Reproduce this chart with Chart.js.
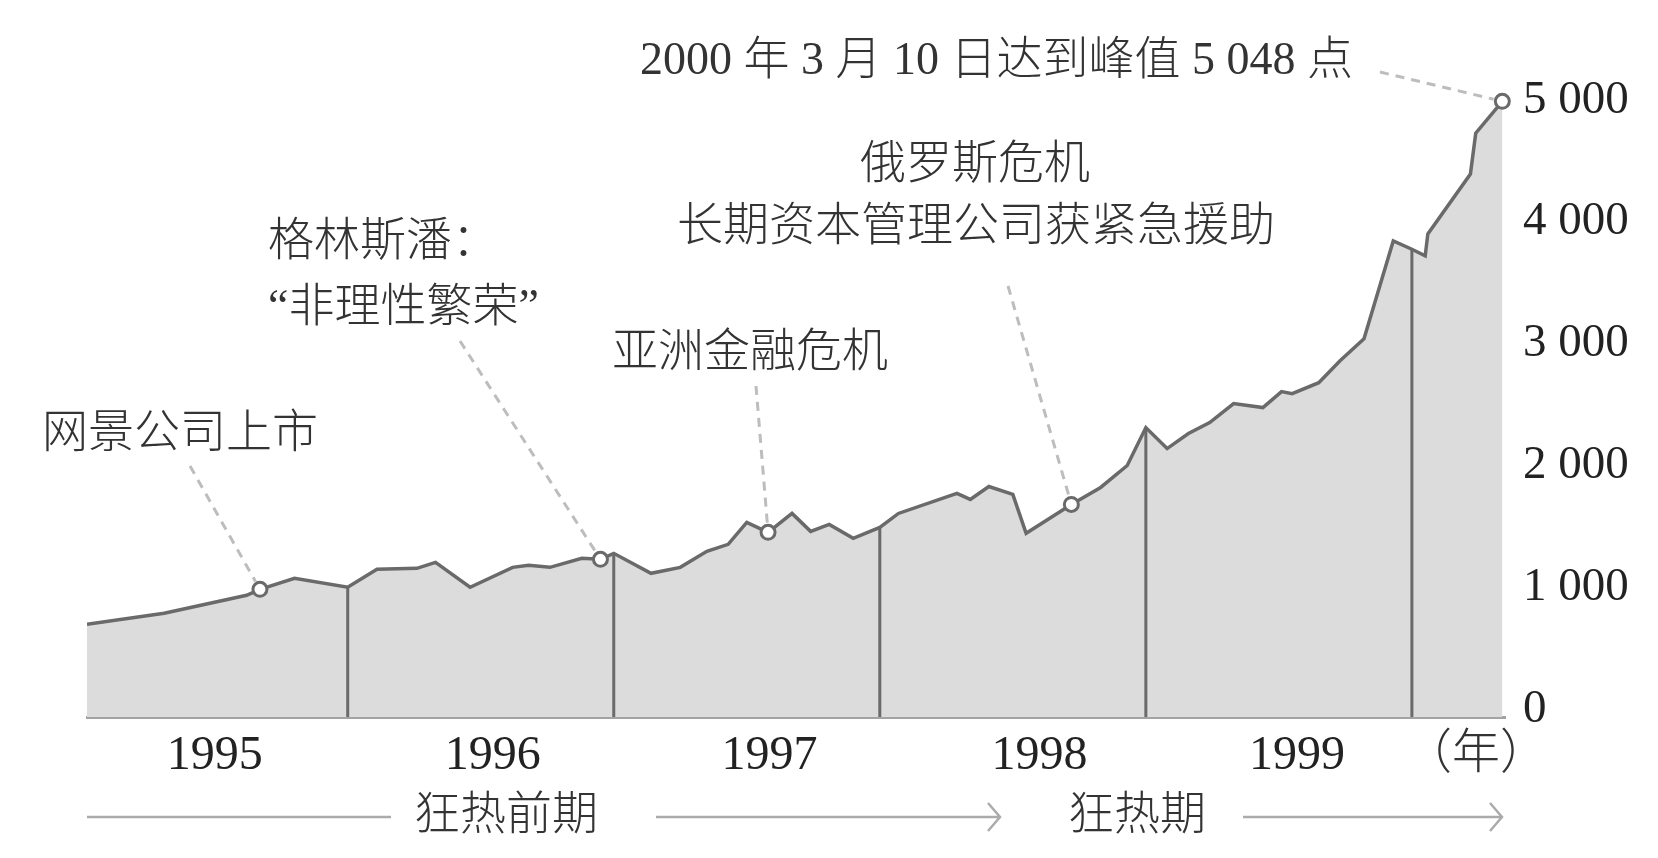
<!DOCTYPE html>
<html lang="zh-CN">
<head>
<meta charset="utf-8">
<title>纳斯达克指数 1995-2000</title>
<script src="https://cdn.jsdelivr.net/npm/chart.js@4.4.1/dist/chart.umd.min.js"></script>
<style>
  html, body { margin: 0; padding: 0; background: #fff; }
  #wrap { width: 1658px; height: 858px; position: relative; }
</style>
</head>
<body>
<div id="wrap"><canvas id="myChart"></canvas></div>
<script>
// 日期（以年为单位的小数）和指数值
const dates = [
  1995.02, 1995.31, 1995.62, 1995.67, 1995.80,
  1996.00, 1996.11, 1996.26, 1996.33, 1996.46, 1996.62, 1996.68, 1996.76, 1996.88, 1996.95,
  1997.00, 1997.14, 1997.25, 1997.35, 1997.43, 1997.50, 1997.58, 1997.67, 1997.74, 1997.81, 1997.90,
  1998.00, 1998.07, 1998.29, 1998.34, 1998.41, 1998.50, 1998.55, 1998.72, 1998.83, 1998.93,
  1999.00, 1999.08, 1999.16, 1999.24, 1999.33, 1999.44, 1999.51, 1999.55, 1999.65, 1999.73, 1999.82, 1999.93,
  2000.00, 2000.05, 2000.06, 2000.22, 2000.24, 2000.34
];
const values = [
  761, 851, 998, 1047, 1137,
  1064, 1211, 1219, 1268, 1064, 1227, 1244, 1227, 1301, 1293,
  1342, 1178, 1227, 1358, 1416, 1596, 1514, 1669, 1522, 1579, 1465,
  1555, 1669, 1833, 1784, 1890, 1825, 1506, 1743, 1882, 2062,
  2373, 2201, 2324, 2414, 2570, 2537, 2668, 2651, 2741, 2921, 3101, 3903,
  3835, 3781, 3961, 4452, 4787, 5048
];

// 事件
const eventDates = [1995.67, 1996.95, 1997.58, 1998.72, 2000.34];
const eventValues = [1047, 1293, 1514, 1743, 5048];
const eventLabels = [
  ['网景公司上市'],
  ['格林斯潘：', '“非理性繁荣”'],
  ['亚洲金融危机'],
  ['俄罗斯危机', '长期资本管理公司获紧急援助'],
  ['2000 年 3 月 10 日达到峰值 5 048 点']
];

// 坐标轴
const yearLabels = ['1995', '1996', '1997', '1998', '1999'];
const yearTicks = [1995.5, 1996.545, 1997.585, 1998.6, 1999.568];
const yearBounds = [1996, 1997, 1998, 1999, 2000];
const yTicks = [0, 1000, 2000, 3000, 4000, 5000];
const yTickLabels = ['0', '1 000', '2 000', '3 000', '4 000', '5 000'];
const phaseLabels = ['狂热前期', '狂热期'];
const xUnitLabel = '（年）';

const FONT = '"Liberation Serif", "Noto Sans CJK SC", serif';
const LINE_COLOR = '#6a6a6a';

// 插值求某一时间点的指数
function valueAt(x) {
  for (let i = 1; i < dates.length; i++) {
    if (x <= dates[i]) {
      const t = (x - dates[i - 1]) / (dates[i] - dates[i - 1]);
      return values[i - 1] + t * (values[i] - values[i - 1]);
    }
  }
  return values[values.length - 1];
}

// 年份分隔竖线
const yearLinesPlugin = {
  id: 'yearLines',
  afterDatasetsDraw(chart) {
    const { ctx, scales: { x, y } } = chart;
    ctx.save();
    ctx.strokeStyle = LINE_COLOR;
    ctx.lineWidth = 3;
    yearBounds.forEach(b => {
      const px = x.getPixelForValue(b);
      ctx.beginPath();
      ctx.moveTo(px, y.getPixelForValue(0));
      ctx.lineTo(px, y.getPixelForValue(valueAt(b)));
      ctx.stroke();
    });
    ctx.restore();
  }
};

// 事件文字与引线（文字位置）
const annotLayout = [
  { lines: [[42, 435, 'left']], from: [190, 466] },
  { lines: [[268, 243, 'left'], [268, 309, 'left']], from: [460, 341] },
  { lines: [[612, 354, 'left']], from: [756, 386] },
  { lines: [[975, 166, 'center'], [976, 228, 'center']], from: [1008, 286] },
  { lines: [[640, 62, 'left']], from: [1380, 72] }
];

const annotPlugin = {
  id: 'annotations',
  beforeDatasetsDraw(chart) {
    const { ctx, scales: { x, y } } = chart;
    ctx.save();
    ctx.strokeStyle = '#bdbdbd';
    ctx.lineWidth = 3;
    ctx.setLineDash([9, 7]);
    eventDates.forEach((d, i) => {
      const lay = annotLayout[i];
      const px = x.getPixelForValue(d);
      const py = y.getPixelForValue(eventValues[i]);
      const dx = lay.from[0] - px, dy = lay.from[1] - py;
      const len = Math.hypot(dx, dy);
      ctx.beginPath();
      ctx.moveTo(lay.from[0], lay.from[1]);
      ctx.lineTo(px + dx / len * 9, py + dy / len * 9);
      ctx.stroke();
    });
    ctx.restore();
  },
  afterDraw(chart) {
    const { ctx } = chart;
    ctx.save();
    ctx.fillStyle = '#333';
    ctx.font = '300 46px ' + FONT;
    ctx.textBaseline = 'middle';
    eventLabels.forEach((lbl, i) => {
      lbl.forEach((t, j) => {
        const [lx, ly, al] = annotLayout[i].lines[j];
        ctx.textAlign = al;
        ctx.fillText(t, lx, ly);
      });
    });

    // （年）
    ctx.textAlign = 'center';
    ctx.font = '300 48px ' + FONT;
    ctx.fillText(xUnitLabel, 1476, 755);

    // 阶段说明和箭头
    ctx.font = '300 46px ' + FONT;
    ctx.fillText(phaseLabels[0], 506, 817);
    ctx.fillText(phaseLabels[1], 1137, 817);
    ctx.strokeStyle = '#ababab';
    ctx.lineWidth = 2.5;
    const arrows = [[87, 391, false], [656, 1000, true], [1243, 1502, true]];
    arrows.forEach(([x0, x1, head]) => {
      ctx.beginPath();
      ctx.moveTo(x0, 817);
      ctx.lineTo(x1, 817);
      if (head) {
        ctx.moveTo(x1 - 12, 803);
        ctx.lineTo(x1, 817);
        ctx.lineTo(x1 - 12, 831);
      }
      ctx.stroke();
    });
    ctx.restore();
  }
};

let ctx = document.getElementById('myChart').getContext('2d');
let graficoChart = new Chart(ctx, {
  type: 'line',
  data: {
    datasets: [
      {
        label: '事件',
        data: eventDates.map((d, i) => ({ x: d, y: eventValues[i] })),
        showLine: false,
        pointRadius: 7,
        pointBorderWidth: 3,
        pointBackgroundColor: '#fff',
        pointBorderColor: LINE_COLOR,
        clip: false,
        order: 0
      },
      {
        label: '纳斯达克指数',
        data: dates.map((d, i) => ({ x: d, y: values[i] })),
        borderColor: LINE_COLOR,
        borderWidth: 3.5,
        backgroundColor: '#dcdcdc',
        fill: 'origin',
        pointRadius: 0,
        tension: 0,
        order: 1
      }
    ]
  },
  options: {
    responsive: true,
    maintainAspectRatio: false,
    animation: false,
    layout: { padding: { top: 45, left: 87, right: 0, bottom: 0 } },
    plugins: {
      legend: { display: false },
      tooltip: { enabled: false }
    },
    scales: {
      x: {
        type: 'linear',
        min: 1995.02,
        max: 2000.35,
        grid: { display: false, drawTicks: false },
        border: { display: true, color: '#a3a3a3', width: 3 },
        afterBuildTicks: scale => { scale.ticks = yearTicks.map(v => ({ value: v })); },
        afterFit: scale => { scale.height = 141; },
        ticks: {
          padding: 11,
          color: '#222',
          font: { family: FONT, size: 48 },
          maxRotation: 0,
          autoSkip: false,
          callback: (v, i) => yearLabels[i]
        }
      },
      y: {
        position: 'right',
        min: 0,
        max: 5500,
        grid: { display: false, drawTicks: false },
        border: { display: false },
        afterBuildTicks: scale => { scale.ticks = yTicks.map(v => ({ value: v })); },
        afterFit: scale => { scale.width = 153; },
        ticks: {
          padding: 18,
          labelOffset: -7,
          color: '#222',
          font: { family: FONT, size: 47 },
          callback: (v, i) => yTickLabels[i]
        }
      }
    }
  },
  plugins: [yearLinesPlugin, annotPlugin]
});
</script>
</body>
</html>
